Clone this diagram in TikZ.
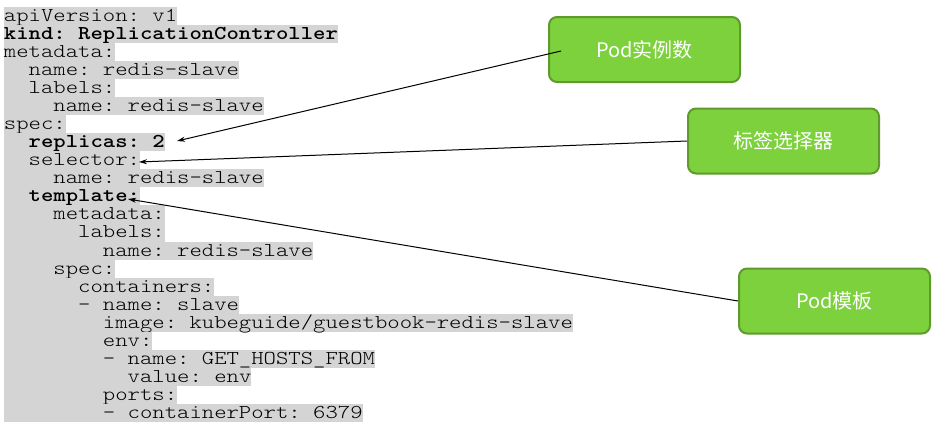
\documentclass[tikz,border=0pt]{standalone}
\usepackage{fontspec}
\newfontfamily\codefont[Extension=.otf, FakeStretch=1.2,
  UprightFont=lmmonolt10-regular, BoldFont=lmmonolt10-bold]{lmmonolt10-regular}
\newfontfamily\cjkfont{Noto Sans CJK SC}
\usetikzlibrary{arrows.meta,calc}
\definecolor{codebg}{HTML}{D4D4D4}
\definecolor{boxfill}{HTML}{7DD13C}
\definecolor{boxline}{HTML}{5E9B2C}
\tikzset{
  codetext/.style={anchor=base west, inner sep=0pt, outer sep=0pt,
    text height=11pt, text depth=3pt,
    font=\frenchspacing\codefont\fontsize{19.63}{19.63}\selectfont},
  greenbox/.style={draw=boxline, fill=boxfill, line width=2pt, rounded corners=8pt,
    minimum width=191pt, minimum height=65pt, inner sep=0pt, text=white,
    font=\cjkfont\fontsize{20}{24}\selectfont},
  pointer/.style={draw=black, line width=1pt, -{Stealth[length=8pt,width=5pt]}}
}
% #1 name, #2 line index (0-based), #3 indent, #4 total chars, #5 text
\newcommand\codeline[5]{%
  \fill[codebg] (4,{7+18.04*#2}) rectangle ({4+12.37*#4},{7+18.04*(#2+1)});
  \node[codetext] (#1) at ({4+12.37*#3},{7+18.04*#2+14.5}) {#5};
}
\begin{document}
\begin{tikzpicture}[x=1pt,y=-1pt]
\useasboundingbox (0,0) rectangle (942,429);
\codeline{l1}{0}{0}{14}{apiVersion: v1}
\codeline{l2}{1}{0}{27}{\bfseries kind: ReplicationController}
\codeline{l3}{2}{0}{9}{metadata:}
\codeline{l4}{3}{2}{19}{name: redis-slave}
\codeline{l5}{4}{2}{9}{labels:}
\codeline{l6}{5}{4}{21}{name: redis-slave}
\codeline{l7}{6}{0}{5}{spec:}
\codeline{l8}{7}{2}{13}{\bfseries replicas: 2}
\codeline{l9}{8}{2}{11}{selector:}
\codeline{l10}{9}{4}{21}{name: redis-slave}
\codeline{l11}{10}{2}{11}{\bfseries template:}
\codeline{l12}{11}{4}{13}{metadata:}
\codeline{l13}{12}{6}{13}{labels:}
\codeline{l14}{13}{8}{25}{name: redis-slave}
\codeline{l15}{14}{4}{9}{spec:}
\codeline{l16}{15}{6}{17}{containers:}
\codeline{l17}{16}{6}{19}{- name: slave}
\codeline{l18}{17}{8}{46}{image: kubeguide/guestbook-redis-slave}
\codeline{l19}{18}{8}{12}{env:}
\codeline{l20}{19}{8}{30}{- name: GET\_HOSTS\_FROM}
\codeline{l21}{20}{10}{20}{value: env}
\codeline{l22}{21}{8}{14}{ports:}
\codeline{l23}{22}{8}{29}{- containerPort: 6379}

\node[greenbox] (b1) at (644.5,49.5) {Pod实例数};
\node[greenbox] (b2) at (783.5,141) {标签选择器};
\node[greenbox] (b3) at (834.5,301) {Pod模板};

\coordinate (t1) at (177,141);
\coordinate (t2) at (139,162);
\coordinate (t3) at (128,199);

\draw[pointer] ($(b1.west)+(13,1.5)$) -- (t1);
\draw[pointer] (b2.west) -- (t2);
\draw[pointer] (b3.west) -- (t3);
\end{tikzpicture}
\end{document}
